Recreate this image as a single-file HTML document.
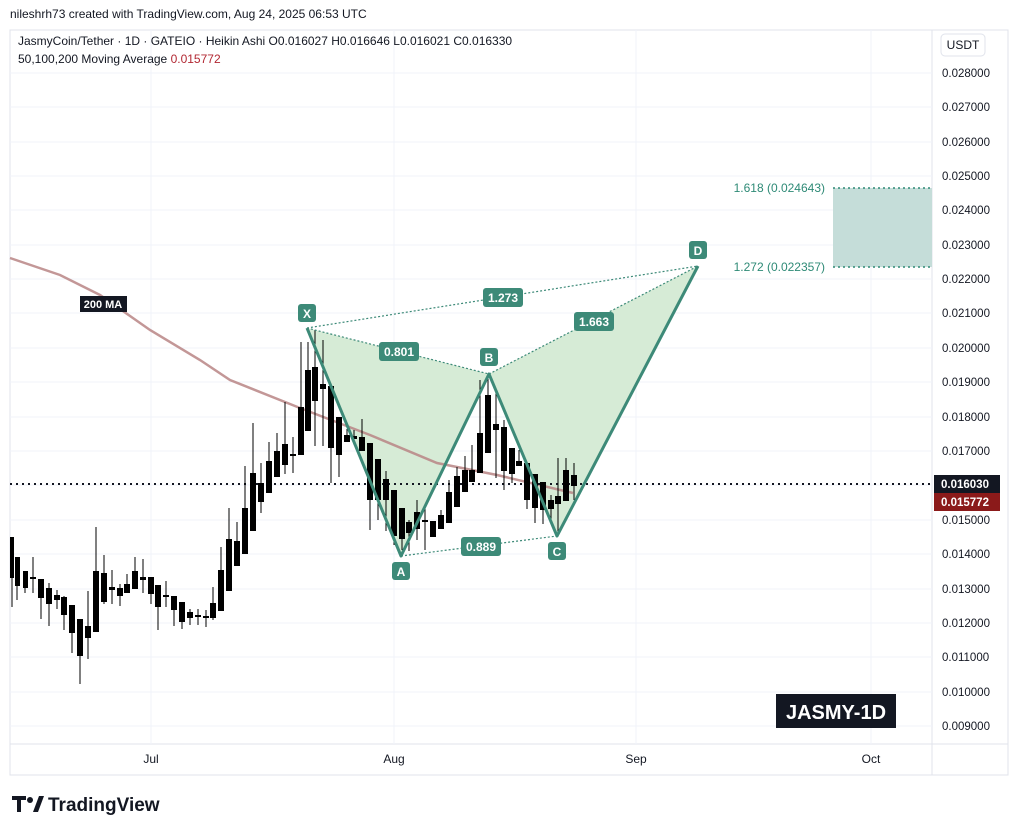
<!DOCTYPE html>
<html><head><meta charset="utf-8"><style>
body{margin:0;background:#fff;font-family:"Liberation Sans",sans-serif;}
</style></head><body>
<svg width="1018" height="833" xmlns="http://www.w3.org/2000/svg" font-family="Liberation Sans, sans-serif">
<rect width="1018" height="833" fill="#fff"/>
<text x="10" y="18" font-size="12" fill="#131722">nileshrh73 created with TradingView.com, Aug 24, 2025 06:53 UTC</text>
<rect x="10" y="30" width="998" height="745" fill="none" stroke="#e0e3eb"/>
<line x1="932" y1="30" x2="932" y2="775" stroke="#e0e3eb"/>
<line x1="10" y1="744" x2="1008" y2="744" stroke="#e0e3eb"/>
<g stroke="#f0f3fa">
<line x1="10" y1="73" x2="932" y2="73"/><line x1="10" y1="107" x2="932" y2="107"/><line x1="10" y1="142" x2="932" y2="142"/><line x1="10" y1="176" x2="932" y2="176"/><line x1="10" y1="210" x2="932" y2="210"/><line x1="10" y1="245" x2="932" y2="245"/><line x1="10" y1="279" x2="932" y2="279"/><line x1="10" y1="313" x2="932" y2="313"/><line x1="10" y1="348" x2="932" y2="348"/><line x1="10" y1="382" x2="932" y2="382"/><line x1="10" y1="417" x2="932" y2="417"/><line x1="10" y1="451" x2="932" y2="451"/><line x1="10" y1="485" x2="932" y2="485"/><line x1="10" y1="520" x2="932" y2="520"/><line x1="10" y1="554" x2="932" y2="554"/><line x1="10" y1="589" x2="932" y2="589"/><line x1="10" y1="623" x2="932" y2="623"/><line x1="10" y1="657" x2="932" y2="657"/><line x1="10" y1="692" x2="932" y2="692"/><line x1="10" y1="726" x2="932" y2="726"/>
<line x1="151" y1="30" x2="151" y2="744"/><line x1="394" y1="30" x2="394" y2="744"/><line x1="636" y1="30" x2="636" y2="744"/><line x1="871" y1="30" x2="871" y2="744"/>
</g>
<text x="18" y="45" font-size="12" fill="#131722">JasmyCoin/Tether · 1D · GATEIO · Heikin Ashi  O0.016027  H0.016646  L0.016021  C0.016330</text>
<text x="18" y="63" font-size="12" fill="#131722">50,100,200 Moving Average <tspan fill="#b22833">0.015772</tspan></text>
<rect x="833" y="188" width="99" height="79" fill="#c5ddd9"/>
<line x1="833" y1="188" x2="932" y2="188" stroke="#2e8a76" stroke-dasharray="2,3" stroke-width="1.5"/>
<line x1="833" y1="267" x2="932" y2="267" stroke="#2e8a76" stroke-dasharray="2,3" stroke-width="1.5"/>
<text x="825" y="192" font-size="12" fill="#2e8a76" text-anchor="end">1.618 (0.024643)</text>
<text x="825" y="271" font-size="12" fill="#2e8a76" text-anchor="end">1.272 (0.022357)</text>
<polygon points="307,328 401,556 489,374" fill="#d6ebd6"/>
<polygon points="489,374 557,536 698,266" fill="#d6ebd6"/>
<polyline points="10,258 60,275 100,295 150,330 200,360 230,380 300,408 370,435 437,463 497,475 573,493" fill="none" stroke="#b98585" stroke-width="2.5" opacity="0.85"/>
<line x1="10" y1="484" x2="932" y2="484" stroke="#131722" stroke-width="2" stroke-dasharray="2,4"/>
<g id="c" stroke="#000" fill="#000"></g>
<g stroke="#000" stroke-width="1">
<path d="M12 537V607M17 557V600M25 571V593M33 557V593M41 579V619M49 583V626M57 590V609M64 596V630M72 605V653M80 619V684M88 591V659M96 527V632M104 555V604M112 570V604M120 584V606M127 574V593M135 557V589M143 559V593M151 577V604M158 585V630M166 581V607M174 596V626M182 602V629M190 609V625M198 609V625M206 610V627M213 587V620M221 547V611M229 508V591M237 522V566M245 466V554M253 423V531M261 463V513M269 442V493M277 433V477M285 402V474M293 437V473M301 342V455M308 342V431M315 330V446M323 340V446M331 386V483M339 417V477M347 429V442M354 430V445M362 419V451M370 443V530M378 459V520M386 471V531M394 490V545M402 508V550M409 520V551M417 500V540M425 507V550M433 521V537M441 510V529M449 480V523M457 467V507M465 456V492M472 445V482M480 380V473M488 374V453M496 392V478M504 420V490M512 448V483M519 450V466M527 463V509M535 474V523M543 482V524M551 495V524M558 458V532M566 458V501M574 463V500"/>
</g>
<g fill="#000">
<rect x="10" y="537" width="4" height="41"/><rect x="15" y="557" width="5" height="29"/><rect x="23" y="571" width="5" height="17"/><rect x="30" y="577" width="6" height="2"/><rect x="38" y="579" width="6" height="19"/><rect x="46" y="588" width="6" height="16"/><rect x="54" y="595" width="6" height="5"/><rect x="61" y="597" width="6" height="18"/><rect x="69" y="605" width="6" height="28"/><rect x="77" y="619" width="6" height="37"/><rect x="85" y="626" width="6" height="12"/><rect x="93" y="571" width="6" height="61"/><rect x="101" y="573" width="6" height="29"/><rect x="109" y="587" width="6" height="3"/><rect x="117" y="588" width="6" height="8"/><rect x="124" y="584" width="6" height="9"/><rect x="132" y="571" width="6" height="18"/><rect x="140" y="577" width="6" height="3"/><rect x="148" y="577" width="6" height="17"/><rect x="155" y="585" width="6" height="22"/><rect x="163" y="595" width="6" height="2"/><rect x="171" y="596" width="6" height="14"/><rect x="179" y="602" width="6" height="20"/><rect x="187" y="612" width="6" height="6"/><rect x="195" y="615" width="6" height="2"/><rect x="203" y="616" width="6" height="2"/><rect x="210" y="603" width="6" height="15"/><rect x="218" y="570" width="6" height="41"/><rect x="226" y="539" width="6" height="52"/><rect x="234" y="541" width="6" height="25"/><rect x="242" y="508" width="6" height="46"/><rect x="250" y="473" width="6" height="58"/><rect x="258" y="483" width="6" height="19"/><rect x="266" y="461" width="6" height="32"/><rect x="274" y="451" width="6" height="26"/><rect x="282" y="444" width="6" height="21"/><rect x="290" y="454" width="6" height="2"/><rect x="298" y="407" width="6" height="48"/><rect x="305" y="370" width="6" height="61"/><rect x="312" y="367" width="6" height="34"/><rect x="320" y="384" width="6" height="5"/><rect x="328" y="386" width="6" height="62"/><rect x="336" y="417" width="6" height="38"/><rect x="344" y="435" width="6" height="7"/><rect x="351" y="436" width="6" height="3"/><rect x="359" y="437" width="6" height="14"/><rect x="367" y="443" width="6" height="57"/><rect x="375" y="459" width="6" height="41"/><rect x="383" y="479" width="6" height="21"/><rect x="391" y="490" width="6" height="46"/><rect x="399" y="508" width="6" height="31"/><rect x="406" y="522" width="6" height="11"/><rect x="414" y="512" width="6" height="17"/><rect x="422" y="520" width="6" height="2"/><rect x="430" y="521" width="6" height="16"/><rect x="438" y="515" width="6" height="14"/><rect x="446" y="492" width="6" height="31"/><rect x="454" y="476" width="6" height="31"/><rect x="462" y="470" width="6" height="22"/><rect x="469" y="470" width="6" height="12"/><rect x="477" y="433" width="6" height="40"/><rect x="485" y="395" width="6" height="58"/><rect x="493" y="424" width="6" height="6"/><rect x="501" y="427" width="6" height="44"/><rect x="509" y="448" width="6" height="26"/><rect x="516" y="461" width="6" height="5"/><rect x="524" y="463" width="6" height="37"/><rect x="532" y="474" width="6" height="34"/><rect x="540" y="482" width="6" height="28"/><rect x="548" y="500" width="6" height="9"/><rect x="555" y="496" width="6" height="8"/><rect x="563" y="470" width="6" height="31"/><rect x="571" y="475" width="6" height="11"/>
</g>
<g stroke="#3d8a78" stroke-width="1.2" stroke-dasharray="2,2" fill="none">
<line x1="307" y1="328" x2="489" y2="374"/><line x1="307" y1="328" x2="698" y2="266"/><line x1="401" y1="556" x2="557" y2="536"/><line x1="489" y1="374" x2="698" y2="266"/>
</g>
<polyline points="307,328 401,556 489,374 557,536 698,266" fill="none" stroke="#3d8a78" stroke-width="3" stroke-linejoin="round"/>
<g font-size="12" font-weight="bold" fill="#fff" text-anchor="middle">
<rect x="298" y="304" width="18" height="18" rx="3" fill="#3d8a78"/><text x="307" y="318">X</text>
<rect x="392" y="562" width="18" height="18" rx="3" fill="#3d8a78"/><text x="401" y="576">A</text>
<rect x="480" y="348" width="18" height="18" rx="3" fill="#3d8a78"/><text x="489" y="362">B</text>
<rect x="548" y="542" width="18" height="18" rx="3" fill="#3d8a78"/><text x="557" y="556">C</text>
<rect x="689" y="241" width="18" height="18" rx="3" fill="#3d8a78"/><text x="698" y="255">D</text>
<rect x="379" y="342" width="40" height="19" rx="3" fill="#3d8a78"/><text x="399" y="356">0.801</text>
<rect x="461" y="537" width="40" height="19" rx="3" fill="#3d8a78"/><text x="481" y="551">0.889</text>
<rect x="483" y="288" width="40" height="19" rx="3" fill="#3d8a78"/><text x="503" y="302">1.273</text>
<rect x="574" y="312" width="40" height="19" rx="3" fill="#3d8a78"/><text x="594" y="326">1.663</text>
</g>
<rect x="80" y="296" width="47" height="16" fill="#131722"/>
<text x="103" y="308" font-size="11" font-weight="bold" fill="#fff" text-anchor="middle">200 MA</text>
<rect x="941" y="34" width="44" height="22" rx="4" fill="#fff" stroke="#e0e3eb"/>
<text x="963" y="49" font-size="12" fill="#131722" text-anchor="middle">USDT</text>
<g font-size="11.5" fill="#131722">
<text x="942" y="77">0.028000</text><text x="942" y="111">0.027000</text><text x="942" y="146">0.026000</text><text x="942" y="180">0.025000</text><text x="942" y="214">0.024000</text><text x="942" y="249">0.023000</text><text x="942" y="283">0.022000</text><text x="942" y="317">0.021000</text><text x="942" y="352">0.020000</text><text x="942" y="386">0.019000</text><text x="942" y="421">0.018000</text><text x="942" y="455">0.017000</text><text x="942" y="524">0.015000</text><text x="942" y="558">0.014000</text><text x="942" y="593">0.013000</text><text x="942" y="627">0.012000</text><text x="942" y="661">0.011000</text><text x="942" y="696">0.010000</text><text x="942" y="730">0.009000</text>
</g>
<rect x="934" y="475" width="66" height="18" fill="#131722"/>
<text x="941" y="488" font-size="11.5" font-weight="bold" fill="#fff">0.016030</text>
<rect x="934" y="493" width="66" height="18" fill="#8b1a1a"/>
<text x="941" y="506" font-size="11.5" font-weight="bold" fill="#fff">0.015772</text>
<g font-size="12" fill="#131722" text-anchor="middle">
<text x="151" y="763">Jul</text><text x="394" y="763">Aug</text><text x="636" y="763">Sep</text><text x="871" y="763">Oct</text>
</g>
<rect x="776" y="694" width="120" height="34" fill="#131722"/>
<text x="836" y="719" font-size="20" font-weight="bold" fill="#fff" text-anchor="middle">JASMY-1D</text>
<g fill="#131722">
<path d="M12 796h14v4h-5v12h-4v-12h-5z"/><circle cx="30" cy="800" r="3"/><path d="M33 812l6-16h5l-6 16z"/>
</g>
<text x="48" y="811" font-size="19" font-weight="bold" fill="#131722">TradingView</text>
</svg>
</body></html>
